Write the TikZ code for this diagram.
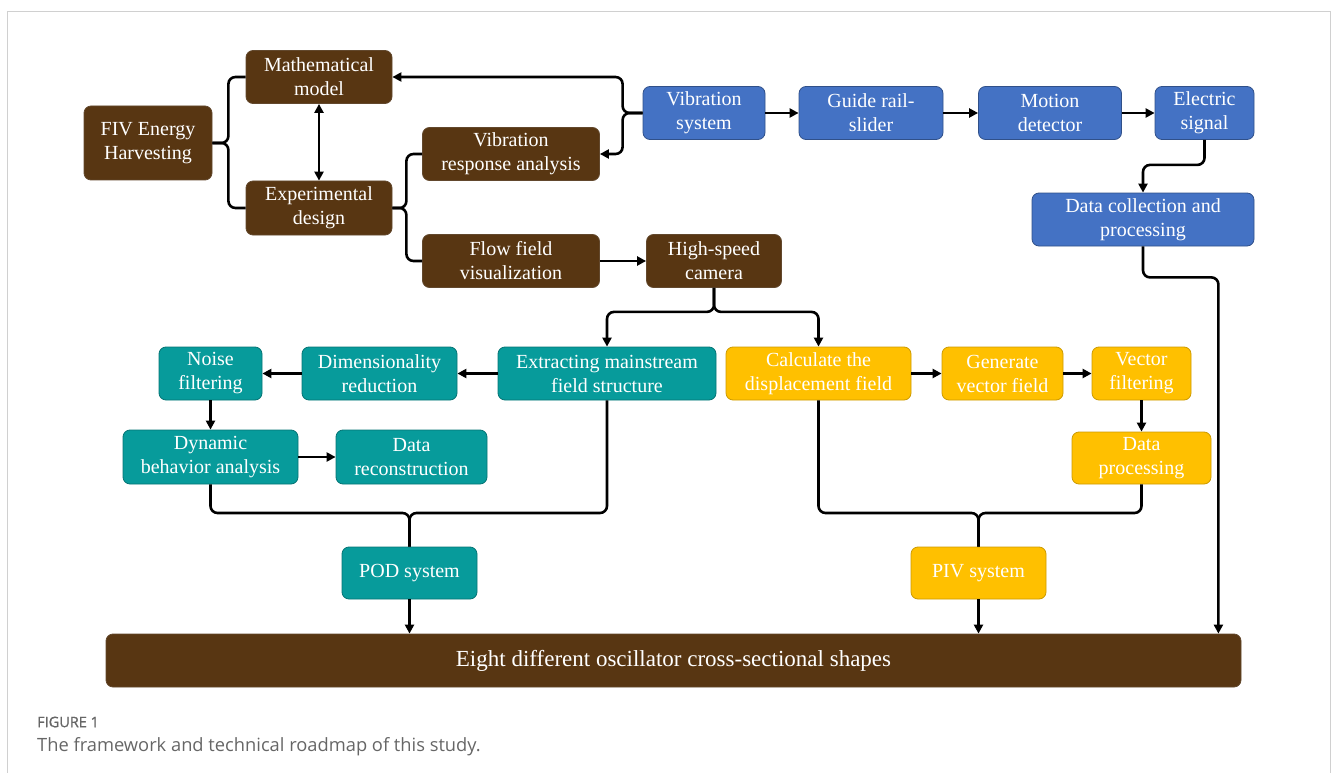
\documentclass[tikz,border=0pt]{standalone}
\usepackage{fontspec}
\setmainfont{Liberation Serif}
\newfontfamily\capfont{Open Sans}
\newfontfamily\capfontsb{Open Sans}[FakeBold=1]
\usetikzlibrary{arrows.meta}
\definecolor{roadbrown}{HTML}{583612}
\definecolor{roadblue}{HTML}{4472C4}
\definecolor{roadteal}{HTML}{079B9B}
\definecolor{roadgold}{HTML}{FFC000}
\definecolor{framegray}{HTML}{D0D0D0}
\definecolor{capgray}{HTML}{666666}
\tikzset{blk/.style={rounded corners=7pt, align=center, text=white, line width=0.8pt, inner sep=1pt, font=\fontsize{20}{24}\selectfont}}
\tikzset{brownbox/.style={blk, fill=roadbrown, draw=roadbrown!75!gray}}
\tikzset{bluebox/.style={blk, fill=roadblue, draw=roadblue!70!black}}
\tikzset{tealbox/.style={blk, fill=roadteal, draw=roadteal!75!black}}
\tikzset{goldbox/.style={blk, fill=roadgold, draw=roadgold!80!black}}
\tikzset{wire/.style={line width=2.6pt, rounded corners=7pt}}
\tikzset{arr/.style={wire, -{Triangle[length=9pt, width=9pt]}}}
\tikzset{darr/.style={wire, {Triangle[length=9pt, width=9pt]}-{Triangle[length=9pt, width=9pt]}}}

\begin{document}
\begin{tikzpicture}[x=1pt, y=-1pt]%{{{
        \useasboundingbox (0,0) rectangle (1331,773);
        \draw[framegray, line width=1pt] (7,773) -- (7,12) -- (1330,12) -- (1330,773);

        % brown part
        \node[brownbox, minimum width=128, minimum height=74] (fiv) at (148, 143) {FIV Energy\\Harvesting};
        \node[brownbox, minimum width=146, minimum height=53] (math) at (319, 77) {Mathematical\\model};
        \node[brownbox, minimum width=146, minimum height=54] (expd) at (319, 208) {Experimental\\design};
        \node[brownbox, minimum width=177, minimum height=53] (vra) at (511, 154) {Vibration\\response analysis};
        \node[brownbox, minimum width=177, minimum height=53] (flow) at (511, 261) {Flow field\\visualization};
        \node[brownbox, minimum width=135, minimum height=53] (hsc) at (714, 261) {High-speed\\camera};

        % blue part
        \node[bluebox, minimum width=122, minimum height=53] (vsys) at (704, 113) {Vibration\\system};
        \node[bluebox, minimum width=144, minimum height=53] (guide) at (871, 113) {Guide rail-\\slider};
        \node[bluebox, minimum width=143, minimum height=53] (motion) at (1050, 113) {Motion\\detector};
        \node[bluebox, minimum width=99, minimum height=53] (elec) at (1204.5, 113) {Electric\\signal};
        \node[bluebox, minimum width=222, minimum height=53] (dcp) at (1143, 219.5) {Data collection and\\processing};

        % teal part
        \node[tealbox, minimum width=218, minimum height=53] (extr) at (607, 373.5) {Extracting mainstream\\field structure};
        \node[tealbox, minimum width=155, minimum height=53] (dimr) at (379.5, 373.5) {Dimensionality\\reduction};
        \node[tealbox, minimum width=103, minimum height=53] (noise) at (210.5, 373.5) {Noise\\filtering};
        \node[tealbox, minimum width=175, minimum height=54] (dyn) at (210.5, 457) {Dynamic\\behavior analysis};
        \node[tealbox, minimum width=151, minimum height=54] (drec) at (411.5, 457) {Data\\reconstruction};
        \node[tealbox, minimum width=135, minimum height=52] (pod) at (409.5, 573) {POD system};

        % gold part
        \node[goldbox, minimum width=185, minimum height=53] (calc) at (818.5, 373.5) {Calculate the\\displacement field};
        \node[goldbox, minimum width=121, minimum height=53] (gen) at (1002.5, 373.5) {Generate\\vector field};
        \node[goldbox, minimum width=99, minimum height=53] (vfil) at (1141.5, 373.5) {Vector\\filtering};
        \node[goldbox, minimum width=139, minimum height=52] (dproc) at (1141.5, 458) {Data\\processing};
        \node[goldbox, minimum width=135, minimum height=52] (piv) at (978.5, 573) {PIV system};

        \node[brownbox, minimum width=1135, minimum height=53, font=\fontsize{23}{26}\selectfont] (eight) at (673.5, 660.5) {Eight different oscillator cross-sectional shapes};

        \coordinate (podj) at (409.5, 513);
        \coordinate (pivj) at (978.5, 513);

        \draw [wire] (fiv.east) -- ++(16,0) |- (math.west);
        \draw [wire] (fiv.east) -- ++(16,0) |- (expd.west);
        \draw [darr] (math.south) -- (expd.north);
        \draw [wire] (expd.east) -- ++(14,0) |- (vra.west);
        \draw [wire] (expd.east) -- ++(14,0) |- (flow.west);
        \draw [arr] (vsys.west) -- ++(-20,0) |- (math.east);
        \draw [arr] (vsys.west) -- ++(-20,0) |- (vra.east);
        \draw [arr] (flow) -- (hsc);
        \draw [arr] (vsys) -- (guide);
        \draw [arr] (guide) -- (motion);
        \draw [arr] (motion) -- (elec);
        \draw [arr] (elec.south) -- ++(0,25) -| (dcp.north);
        \draw [arr] (dcp.south) -- ++(0,31) -| ([xshift=-23pt]eight.north east);

        \draw [arr] (hsc.south) -- ++(0,24) -| (extr.north);
        \draw [arr] (hsc.south) -- ++(0,24) -| (calc.north);
        \draw [arr] (extr) -- (dimr);
        \draw [arr] (dimr) -- (noise);
        \draw [arr] (noise) -- (dyn);
        \draw [arr] (dyn) -- (drec);
        \draw [wire] (dyn.south) |- (podj) -- (pod.north);
        \draw [wire] (extr.south) |- (podj) -- (pod.north);
        \draw [arr] (pod.south) -- (pod.south |- eight.north);

        \draw [arr] (calc) -- (gen);
        \draw [arr] (gen) -- (vfil);
        \draw [arr] (vfil) -- (dproc);
        \draw [wire] (calc.south) |- (pivj) -- (piv.north);
        \draw [wire] (dproc.south) |- (pivj) -- (piv.north);
        \draw [arr] (piv.south) -- (piv.south |- eight.north);

        \node[anchor=west, text=capgray, font=\capfontsb\fontsize{14.5}{16}\selectfont, inner sep=0pt] (fignum) at (37, 722) {FIGURE 1};
        \node[anchor=west, text=capgray, font=\capfont\fontsize{18.3}{20}\selectfont, inner sep=0pt] (figcap) at (37, 747) {The framework and technical roadmap of this study.};
\end{tikzpicture}
\end{document}
